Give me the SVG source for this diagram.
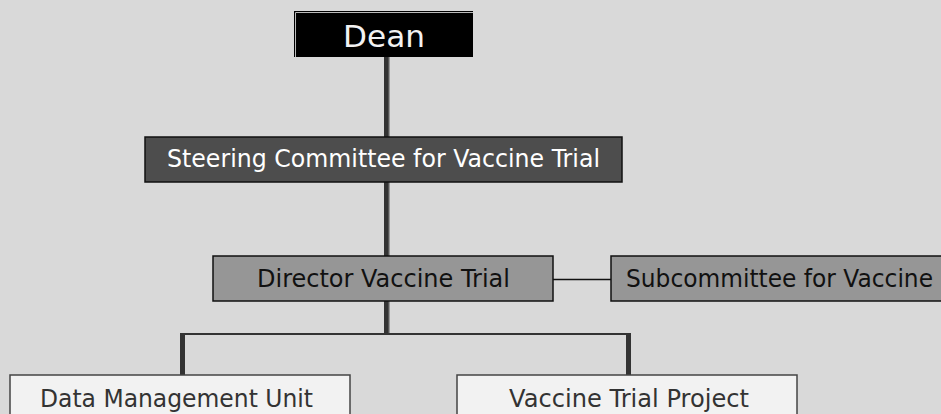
<svg xmlns="http://www.w3.org/2000/svg" width="941" height="414" viewBox="0 0 941 414">
  <style>
    text { font-family: "DejaVu Sans", "Liberation Sans", Arial, sans-serif; font-size: 24px; }
    .dark { fill: #4d4d4d; stroke: #111; stroke-width: 1.5; }
    .mid { fill: #969696; stroke: #111; stroke-width: 1.5; }
    .leaf { fill: #f2f2f2; stroke: #444; stroke-width: 1.5; }
    .thick { fill: #333; }
    .thin { stroke: #111; stroke-width: 1.5; fill: none; }
  </style>
  <rect width="941" height="414" fill="#d9d9d9"/>

  <g id="connectors">
    <!-- Dean to Steering Committee -->
    <rect class="thick" x="384" y="57" width="4" height="80"/>
    <rect x="388" y="57" width="1.5" height="80" fill="#555"/>
    <!-- Steering Committee to Director -->
    <rect class="thick" x="384" y="182" width="4" height="74"/>
    <rect x="388" y="182" width="1.5" height="74" fill="#555"/>
    <!-- Director to Subcommittee -->
    <line class="thin" x1="553" y1="279.5" x2="611" y2="279.5"/>
    <!-- Director down to branch bar -->
    <rect class="thick" x="384" y="301" width="4" height="33"/>
    <rect x="388" y="301" width="1.5" height="33" fill="#555"/>
    <!-- branch bar -->
    <rect x="180" y="333" width="451" height="2" fill="#333"/>
    <!-- drops to the two units -->
    <rect class="thick" x="180" y="333" width="5" height="42"/>
    <rect class="thick" x="626" y="333" width="5" height="42"/>
  </g>

  <g id="dean">
    <rect x="294" y="11" width="179" height="46" fill="#000"/>
    <polyline points="295.5,57 295.5,12.5 473,12.5" fill="none" stroke="#bbb" stroke-width="1"/>
    <text x="384" y="47" text-anchor="middle" fill="#f2f2f2" style="font-size:30px" textLength="82" lengthAdjust="spacingAndGlyphs">Dean</text>
  </g>

  <g id="steering">
    <rect class="dark" x="145" y="137" width="477" height="45"/>
    <text x="167" y="167" fill="#fff" textLength="433" lengthAdjust="spacingAndGlyphs">Steering Committee for Vaccine Trial</text>
  </g>

  <g id="director">
    <rect class="mid" x="213" y="256" width="340" height="45"/>
    <text x="257" y="287" fill="#111" textLength="253" lengthAdjust="spacingAndGlyphs">Director Vaccine Trial</text>
  </g>

  <g id="subcommittee">
    <rect class="mid" x="611" y="256" width="340" height="45"/>
    <text x="626" y="287" fill="#111" textLength="307" lengthAdjust="spacingAndGlyphs">Subcommittee for Vaccine</text>
  </g>

  <g id="data-management">
    <rect class="leaf" x="10" y="375" width="340" height="50"/>
    <text x="40" y="407" fill="#333" textLength="273" lengthAdjust="spacingAndGlyphs">Data Management Unit</text>
  </g>

  <g id="vaccine-project">
    <rect class="leaf" x="457" y="375" width="340" height="50"/>
    <text x="509" y="407" fill="#333" textLength="240" lengthAdjust="spacingAndGlyphs">Vaccine Trial Project</text>
  </g>
</svg>
